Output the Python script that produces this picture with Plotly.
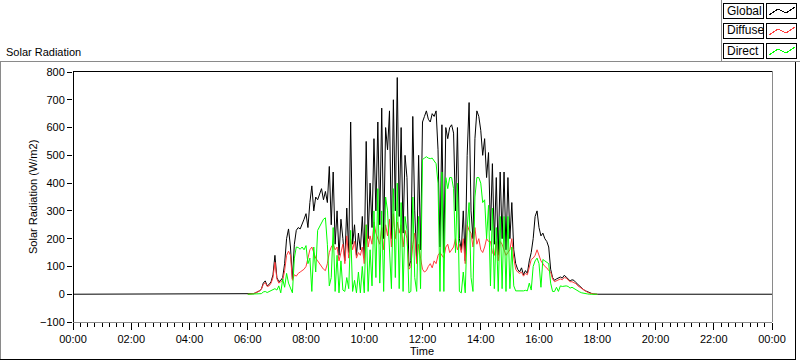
import plotly.graph_objects as go

# ---- data (W/m2), sampled every 4 minutes from 06:00 to 18:00 ----
start_min = 360
step_min = 4

global_rad = [
    0, 0, 1, 2, 5, 8, 12, 18, 40, 48,
    30, 35, 45, 70, 140, 60, 45, 50, 60, 110,
    200, 235, 170, 55, 180, 230, 240, 235, 250, 270,
    290, 240, 330, 390, 300, 350, 340, 360, 380, 340,
    370, 330, 460, 250, 440, 180, 300, 140, 270, 200,
    120, 310, 150, 620, 180, 250, 140, 220, 160, 280,
    130, 550, 200, 400, 240, 560, 300, 620, 250, 670,
    200, 600, 520, 660, 200, 700, 300, 780, 280, 600,
    220, 500, 420, 100, 120, 640, 300, 120, 500, 160,
    620, 640, 660, 630, 620, 650, 640, 660, 520, 170,
    610, 150, 600, 560, 600, 610, 580, 300, 600, 200,
    160, 300, 120, 500, 690, 300, 200, 560, 660, 640,
    590, 500, 560, 420, 510, 230, 470, 180, 420, 140,
    440, 200, 440, 160, 420, 200, 330, 160, 110, 90,
    80, 95, 70, 85, 75, 120, 150, 200, 280, 300,
    240, 210, 220, 200, 190, 170, 90, 60, 50, 55,
    58, 62, 58, 68, 62, 55, 48, 52, 50, 42,
    35, 28, 22, 16, 12, 8, 5, 3, 1, 0, 0,
]

diffuse_rad = [
    0, 0, 1, 2, 5, 8, 12, 18, 35, 42,
    28, 30, 40, 60, 115, 55, 40, 45, 50, 85,
    140, 155, 140, 50, 70, 65, 75, 80, 85, 90,
    100, 130, 160, 170, 145, 130, 120, 110, 100, 90,
    85, 110, 150, 170, 180, 160, 170, 120, 150, 180,
    110, 210, 130, 200, 160, 190, 130, 150, 140, 170,
    110, 250, 170, 210, 180, 260, 220, 200, 180, 240,
    160, 250, 210, 270, 170, 290, 200, 260, 220, 250,
    170, 230, 200, 90, 100, 180, 220, 110, 180, 130,
    90, 80, 85, 100, 110, 95, 120, 110, 140, 150,
    140, 130, 170, 180, 150, 160, 170, 200, 160, 180,
    150, 200, 110, 250, 230, 220, 170, 240, 180, 200,
    160, 150, 170, 200, 190, 190, 150, 140, 190, 120,
    190, 180, 160, 140, 150, 160, 200, 130, 90, 80,
    75, 80, 65, 75, 70, 100, 125, 130, 140, 160,
    140, 120, 110, 100, 95, 85, 80, 55, 45, 48,
    52, 55, 52, 60, 58, 50, 45, 45, 42, 38,
    30, 25, 20, 15, 10, 7, 4, 2, 1, 0, 0,
]

direct_rad = [
    0, 0, 0, 0, 0, 0, 0, 2, 8, 10,
    6, 10, 15, 18, 20, 15, 30, 5, 55, 25,
    75, 40, 20, 5, 130, 170, 168, 162, 170, 160,
    175, 110, 130, 10, 170, 80, 230, 245, 260, 270,
    275, 180, 30, 60, 240, 10, 140, 5, 120, 15,
    10, 60, 20, 230, 10, 50, 5, 80, 5, 100,
    5, 250, 10, 160, 30, 300, 60, 380, 40, 300,
    10, 350, 300, 150, 20, 380, 60, 400, 20, 330,
    10, 280, 230, 5, 10, 350, 60, 10, 280, 20,
    485, 490, 495, 490, 488, 490, 480, 470, 400, 10,
    440, 10, 420, 380, 420, 420, 380, 150, 400, 10,
    5, 80, 5, 240, 330, 60, 10, 350, 420, 420,
    400, 330, 340, 200, 320, 30, 310, 20, 240, 10,
    280, 20, 280, 10, 280, 20, 170, 30, 12, 12,
    10, 12, 12, 14, 12, 40, 15, 100, 120, 130,
    110, 25, 125, 120, 115, 110, 40, 10, 10, 25,
    10, 30, 28, 30, 30, 28, 22, 25, 20, 15,
    12, 8, 5, 3, 2, 1, 0, 0, 0, 0, 0,
]

tick_hours = [0, 2, 4, 6, 8, 10, 12, 14, 16, 18, 20, 22, 24]
tick_labels = ["00:00", "02:00", "04:00", "06:00", "08:00", "10:00", "12:00",
               "14:00", "16:00", "18:00", "20:00", "22:00", "00:00"]
y_ticks = [-100, 0, 100, 200, 300, 400, 500, 600, 700, 800]

day_hours = [(start_min + step_min * i) / 60 for i in range(len(global_rad))]
full_hours = [0] + day_hours + [24]
full_global = [0] + global_rad + [0]

# ---- layout geometry (pixels) ----
W, H = 800, 361
L, T, PW, PH = 73, 71, 699, 251
FONT = "Liberation Sans"
GRAY = "#8a8a8a"


def px(x):
    return (x - L) / PW


def py(y):
    return (T + PH - y) / PH


fig = go.Figure()
fig.add_trace(go.Scatter(x=full_hours, y=full_global, mode="lines", name="Global",
                         line=dict(color="#000000", width=1)))
fig.add_trace(go.Scatter(x=day_hours, y=diffuse_rad, mode="lines", name="Diffuse",
                         line=dict(color="#ff3c3c", width=1)))
fig.add_trace(go.Scatter(x=day_hours, y=direct_rad, mode="lines", name="Direct",
                         line=dict(color="#00ff00", width=1)))

shapes = []


def line(x0, y0, x1, y1, color, width=1):
    shapes.append(dict(type="line", xref="paper", yref="paper",
                       x0=px(x0), y0=py(y0), x1=px(x1), y1=py(y1),
                       line=dict(color=color, width=width)))


# plot-area frame
line(L, T, L, T + PH, "#000000")
line(L, T, L + PW, T, "#000000")
line(L + PW, T, L + PW, T + PH, GRAY)
line(L, T + PH, L + PW, T + PH, GRAY)
# outer panel frame
line(0.5, 61, 721, 61, GRAY)
line(0.5, 61, 0.5, 359.5, GRAY)
line(0, 359.5, 795.5, 359.5, "#000000")
line(795.5, 61, 795.5, 359.5, "#000000")
# legend panel
line(721, 0, 721, 61, GRAY)
line(721, 61, 800, 61, GRAY)

legend_items = [("Global", "#000000", 3), ("Diffuse", "#ff3c3c", 23), ("Direct", "#00ff00", 43)]
annotations = []
for name, color, top in legend_items:
    shapes.append(dict(type="rect", xref="paper", yref="paper",
                       x0=px(723.5), x1=px(763.5), y0=py(top), y1=py(top + 15),
                       line=dict(color="#000000", width=1), fillcolor="white"))
    shapes.append(dict(type="rect", xref="paper", yref="paper",
                       x0=px(766.5), x1=px(796.5), y0=py(top), y1=py(top + 15),
                       line=dict(color="#000000", width=1), fillcolor="white"))
    pts = [(769, top + 12), (778, top + 6), (786, top + 10), (795, top + 4)]
    path = "M " + " L ".join(f"{px(a)},{py(b)}" for a, b in pts)
    shapes.append(dict(type="path", xref="paper", yref="paper", path=path,
                       line=dict(color=color, width=1)))
    annotations.append(dict(text=name, xref="paper", yref="paper", x=px(725), y=py(top + 7.5),
                            xanchor="left", yanchor="middle", showarrow=False,
                            font=dict(family=FONT, size=12, color="#000000")))

annotations += [
    dict(text="Solar Radiation", xref="paper", yref="paper", x=px(4), y=py(52),
         xanchor="left", yanchor="middle", showarrow=False,
         font=dict(family=FONT, size=11, color="#000000")),
    dict(text="Solar Radiation (W/m2)", xref="paper", yref="paper", x=px(33), y=py(197),
         xanchor="center", yanchor="middle", textangle=-90, showarrow=False,
         font=dict(family=FONT, size=11, color="#000000")),
    dict(text="Time", xref="paper", yref="paper", x=px(422), y=py(351),
         xanchor="center", yanchor="middle", showarrow=False,
         font=dict(family=FONT, size=11, color="#000000")),
]

fig.update_layout(
    width=W, height=H,
    margin=dict(l=L, r=W - L - PW, t=T, b=H - T - PH, pad=0),
    paper_bgcolor="white", plot_bgcolor="white",
    showlegend=False,
    shapes=shapes,
    annotations=annotations,
    font=dict(family=FONT, size=11, color="#000000"),
    xaxis=dict(range=[0, 24], tickvals=tick_hours, ticktext=tick_labels,
               ticks="outside", ticklen=7, tickwidth=1, tickcolor="#000000",
               minor=dict(dtick=0.25, tick0=0, ticks="outside", ticklen=4,
                          tickcolor="#000000", showgrid=False),
               showgrid=False, zeroline=False, showline=False,
               tickfont=dict(family=FONT, size=11, color="#000000")),
    yaxis=dict(range=[-100, 803.6], tickvals=y_ticks,
               ticks="outside", ticklen=5, tickwidth=1, tickcolor="#000000",
               showgrid=False, zeroline=False, showline=False,
               tickfont=dict(family=FONT, size=11, color="#000000")),
)

fig.write_html(
    "out.html", config={"displayModeBar": False},
    post_script=("document.body.style.margin='0';document.body.style.overflow='hidden';"
                 "document.querySelectorAll('.shapelayer path').forEach(function(p){"
                 "p.style.shapeRendering='crispEdges';});"))
